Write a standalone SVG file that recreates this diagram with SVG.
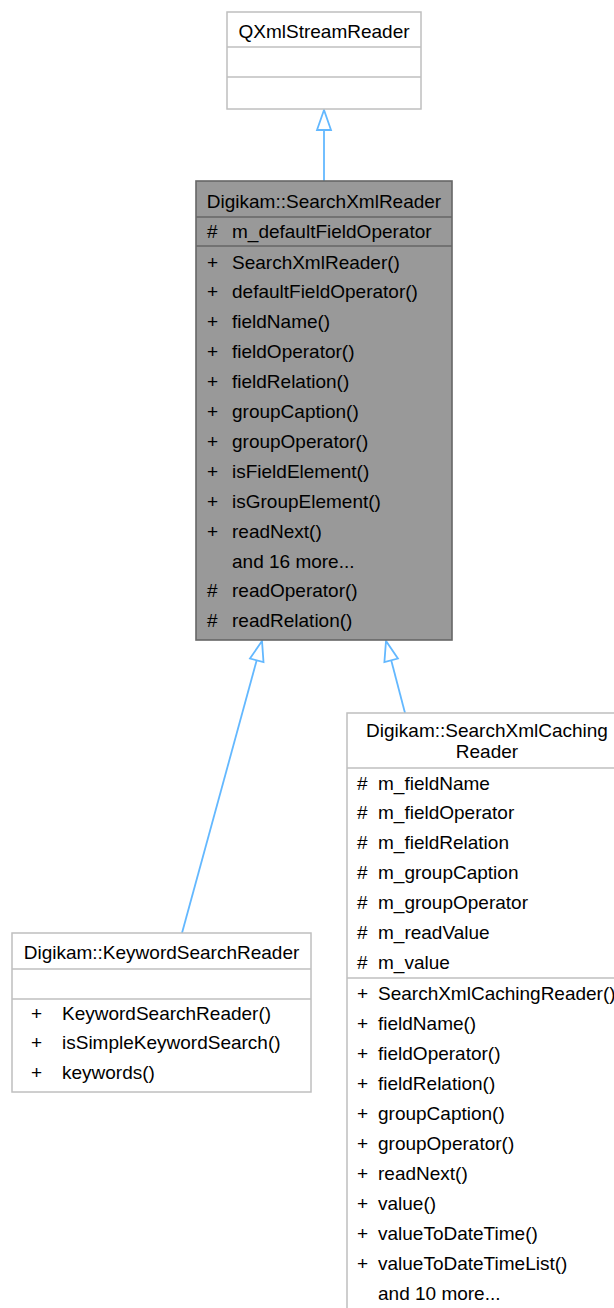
<svg xmlns="http://www.w3.org/2000/svg" width="614" height="1308" viewBox="0 0 614 1308">
<style>
text{font-family:"Liberation Sans",Arial,Helvetica,sans-serif;font-size:19px;fill:#000}
.c{text-anchor:middle}
.wbox{fill:#fff;stroke:#bfbfbf;stroke-width:1.5}
.wsep{stroke:#bfbfbf;stroke-width:1.5}
.gbox{fill:#999;stroke:#666;stroke-width:1.6}
.gsep{stroke:#666;stroke-width:1.6}
.edge{stroke:#63b8ff;stroke-width:1.8;fill:none}
.head{fill:#fff;stroke:#63b8ff;stroke-width:1.8}
</style>
<rect width="614" height="1308" fill="#fff"/>

<g id="connectors">
  <path class="edge" d="M324,130 L324,181"/>
  <polygon class="head" points="324,110 317,130 331,130"/>
  <path class="edge" d="M256.7,660.3 L182,933"/>
  <polygon class="head" points="262,641 250,658.5 263.5,662.1"/>
  <path class="edge" d="M391.2,660.3 L405,713"/>
  <polygon class="head" points="386,641 384.4,662.1 397.9,658.5"/>
</g>

<g id="node-QXmlStreamReader">
  <rect class="wbox" x="227" y="12" width="194" height="97"/>
  <line class="wsep" x1="227" y1="47" x2="421" y2="47"/>
  <line class="wsep" x1="227" y1="77" x2="421" y2="77"/>
  <text class="c" x="324" y="37.5">QXmlStreamReader</text>
</g>

<g id="node-SearchXmlReader">
  <rect class="gbox" x="196" y="181" width="256" height="459"/>
  <line class="gsep" x1="196" y1="217" x2="452" y2="217"/>
  <line class="gsep" x1="196" y1="246" x2="452" y2="246"/>
  <text class="c" x="324" y="207.5">Digikam::SearchXmlReader</text>
  <text x="207" y="237.5">#</text><text x="232" y="237.5">m_defaultFieldOperator</text>
  <text x="207" y="268.5">+</text><text x="232" y="268.5">SearchXmlReader()</text>
  <text x="207" y="298.4">+</text><text x="232" y="298.4">defaultFieldOperator()</text>
  <text x="207" y="328.3">+</text><text x="232" y="328.3">fieldName()</text>
  <text x="207" y="358.2">+</text><text x="232" y="358.2">fieldOperator()</text>
  <text x="207" y="388.1">+</text><text x="232" y="388.1">fieldRelation()</text>
  <text x="207" y="418">+</text><text x="232" y="418">groupCaption()</text>
  <text x="207" y="447.9">+</text><text x="232" y="447.9">groupOperator()</text>
  <text x="207" y="477.8">+</text><text x="232" y="477.8">isFieldElement()</text>
  <text x="207" y="507.7">+</text><text x="232" y="507.7">isGroupElement()</text>
  <text x="207" y="537.6">+</text><text x="232" y="537.6">readNext()</text>
  <text x="232" y="567.5">and 16 more...</text>
  <text x="207" y="597.4">#</text><text x="232" y="597.4">readOperator()</text>
  <text x="207" y="627.3">#</text><text x="232" y="627.3">readRelation()</text>
</g>

<g id="node-KeywordSearchReader">
  <rect class="wbox" x="12" y="933" width="299" height="159"/>
  <line class="wsep" x1="12" y1="969" x2="311" y2="969"/>
  <line class="wsep" x1="12" y1="999" x2="311" y2="999"/>
  <text class="c" x="161.5" y="958.5">Digikam::KeywordSearchReader</text>
  <text x="31" y="1019.5">+</text><text x="62" y="1019.5">KeywordSearchReader()</text>
  <text x="31" y="1049">+</text><text x="62" y="1049">isSimpleKeywordSearch()</text>
  <text x="31" y="1078.5">+</text><text x="62" y="1078.5">keywords()</text>
</g>

<g id="node-SearchXmlCachingReader">
  <rect class="wbox" x="347" y="713" width="280" height="620"/>
  <line class="wsep" x1="347" y1="768" x2="627" y2="768"/>
  <line class="wsep" x1="347" y1="978" x2="627" y2="978"/>
  <text class="c" x="487" y="737">Digikam::SearchXmlCaching</text>
  <text class="c" x="487" y="757.5">Reader</text>
  <text x="357" y="789.5">#</text><text x="378" y="789.5">m_fieldName</text>
  <text x="357" y="819.4">#</text><text x="378" y="819.4">m_fieldOperator</text>
  <text x="357" y="849.3">#</text><text x="378" y="849.3">m_fieldRelation</text>
  <text x="357" y="879.2">#</text><text x="378" y="879.2">m_groupCaption</text>
  <text x="357" y="909.1">#</text><text x="378" y="909.1">m_groupOperator</text>
  <text x="357" y="939">#</text><text x="378" y="939">m_readValue</text>
  <text x="357" y="968.9">#</text><text x="378" y="968.9">m_value</text>
  <text x="357" y="999.5">+</text><text x="378" y="999.5">SearchXmlCachingReader()</text>
  <text x="357" y="1029.5">+</text><text x="378" y="1029.5">fieldName()</text>
  <text x="357" y="1059.5">+</text><text x="378" y="1059.5">fieldOperator()</text>
  <text x="357" y="1089.5">+</text><text x="378" y="1089.5">fieldRelation()</text>
  <text x="357" y="1119.5">+</text><text x="378" y="1119.5">groupCaption()</text>
  <text x="357" y="1149.5">+</text><text x="378" y="1149.5">groupOperator()</text>
  <text x="357" y="1179.5">+</text><text x="378" y="1179.5">readNext()</text>
  <text x="357" y="1209.5">+</text><text x="378" y="1209.5">value()</text>
  <text x="357" y="1239.5">+</text><text x="378" y="1239.5">valueToDateTime()</text>
  <text x="357" y="1269.5">+</text><text x="378" y="1269.5">valueToDateTimeList()</text>
  <text x="378" y="1299.5">and 10 more...</text>
</g>
</svg>
